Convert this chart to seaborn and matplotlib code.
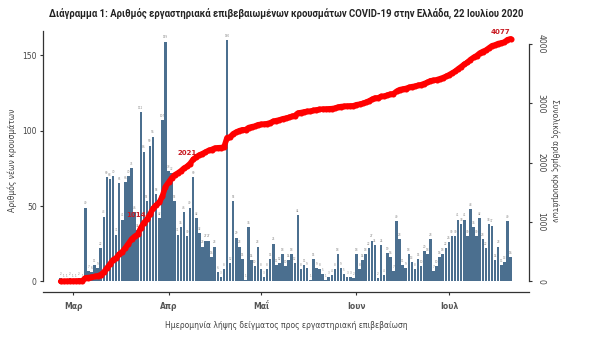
import numpy as np
import pandas as pd
import matplotlib
matplotlib.use("Agg")
import matplotlib.pyplot as plt
import seaborn as sns

# ---------------- data ----------------
start_date = "2020-02-26"
daily_cases = [
    2, 1, 1, 2, 1, 1, 2, 1,
    49, 7, 6, 11, 9, 22, 43, 69, 68, 70, 31, 65, 41, 66, 70, 75, 46, 34, 112, 86,
    53, 90, 96, 58, 42, 107, 159, 73, 72, 53, 31, 36, 46, 30, 49, 69, 42, 32, 23, 27, 27, 16, 23, 6, 3, 8,
    160,
    12, 53, 29, 23, 15, 1, 36, 14, 10, 23, 8, 3, 8, 15, 25, 11, 12, 18, 10, 14,
    18, 12, 44, 8, 11, 9, 1, 15, 9, 8, 5, 1, 3, 4, 8, 18, 9, 5, 3, 3, 2,
    18, 8, 14, 18, 22, 27, 24, 2, 24, 4, 19, 16, 7, 40, 28, 11, 9, 18, 13, 8, 15, 10, 20, 18, 28, 7, 10, 16, 18, 22, 26,
    30, 30, 41, 38, 41, 30, 48, 36, 30, 42, 28, 22, 38, 37, 14, 23, 11, 13, 40, 16,
]
month_tick_dates = ["2020-03-01", "2020-04-01", "2020-05-01", "2020-06-01", "2020-07-01"]
month_labels = ["Μαρ", "Απρ", "Μαΐ", "Ιουν", "Ιουλ"]
left_ticks = [0, 50, 100, 150]
right_ticks = [0, 1000, 2000, 3000, 4000]
line_labels = [1014, 2021, 4077]

title = "Διάγραμμα 1: Αριθμός εργαστηριακά επιβεβαιωμένων κρουσμάτων COVID-19 στην Ελλάδα, 22 Ιουλίου 2020"
xlabel = "Ημερομηνία λήψης δείγματος προς εργαστηριακή επιβεβαίωση"
ylabel_left = "Αριθμός νέων κρουσμάτων"
ylabel_right = "Συνολικός αριθμός κρουσμάτων"

# ---------------- frame ----------------
dates = pd.date_range(start_date, periods=len(daily_cases), freq="D")
day = (dates - dates[0]).days.values
df = pd.DataFrame({"day": day, "cases": daily_cases})
df["cum"] = df["cases"].cumsum()
tick_pos = [(pd.Timestamp(d) - dates[0]).days for d in month_tick_dates]

sns.set_style("white")
plt.rcParams["font.family"] = ["DejaVu Sans"]

W, H = 600, 340
fig = plt.figure(figsize=(6, 3.4), dpi=100)
ax = fig.add_axes([43 / W, (H - 292) / H, 486 / W, 264 / H])

bar_color = "#4b6f8f"
sns.barplot(data=df, x="day", y="cases", native_scale=True, color=bar_color,
            width=0.82, saturation=1, edgecolor="none", ax=ax, zorder=2)

for d, v in zip(df["day"], df["cases"]):
    ax.text(d, v + 1.5, str(v), fontsize=2.0, color="#888888", ha="center",
            va="bottom", zorder=3)

ax.set_xlim(-5.74, 152.0)
ax.set_ylim(-7, 168)

ax2 = ax.twinx()
sns.lineplot(data=df, x="day", y="cum", color="#ff0000", lw=4.0, marker="o",
             markersize=4.4, markeredgewidth=0, ax=ax2, zorder=4)
ax2.set_ylim(-177, 4268)
ax2.set_xlim(-5.74, 152.0)

offsets = {1014: (-8, 1), 2021: (-4, 2.5), 4077: (-7, 3)}
for lab in line_labels:
    idx = int(np.argmax(df["cum"].values >= lab)) if lab < df["cum"].iloc[-1] else len(df) - 1
    ax2.annotate(str(lab), (df["day"].iloc[idx], df["cum"].iloc[idx]),
                 xytext=offsets[lab], textcoords="offset points", ha="center", va="bottom",
                 fontsize=5, fontweight="bold", color="#c81a22", zorder=6)

# spines
for s in ["top", "right"]:
    ax.spines[s].set_visible(False)
for s in ["top", "left", "bottom"]:
    ax2.spines[s].set_visible(False)
ax.spines["left"].set_bounds(0, 166)
ax2.spines["right"].set_bounds(0, 4000)
for sp in [ax.spines["left"], ax.spines["bottom"], ax2.spines["right"]]:
    sp.set_color("#333333")
    sp.set_linewidth(0.9)

ax.set_xticks(tick_pos)
ax.set_xticklabels(month_labels, fontsize=5.5, color="#555555", fontweight="bold")
ax.set_yticks(left_ticks)
ax.set_yticklabels([str(t) for t in left_ticks], fontsize=5.5, color="#444444")
ax.tick_params(axis="both", length=2.5, width=0.8, color="#333333", pad=2, left=True, bottom=True)
ax.tick_params(axis="x", pad=5)

ax2.set_yticks(right_ticks)
ax2.set_yticklabels([str(t) for t in right_ticks], fontsize=5.5, color="#444444",
                    rotation=-90, va="center")
ax2.tick_params(axis="y", length=2.5, width=0.8, color="#333333", pad=3, right=True)

ax.set_xlabel(xlabel, fontsize=5.5, color="#444444", labelpad=7)
ax.set_ylabel(ylabel_left, fontsize=5.5, color="#444444", labelpad=4)
ax2.set_ylabel(ylabel_right, fontsize=5.5, color="#444444", rotation=-90, labelpad=10)
ax.grid(False)
ax2.grid(False)

fig.text(286 / W, 1 - 13 / H, title, ha="center", va="center", fontsize=6.85,
         fontweight="bold", color="#222222", family=["Roboto", "DejaVu Sans"])

fig.savefig("out.png", dpi=100)
